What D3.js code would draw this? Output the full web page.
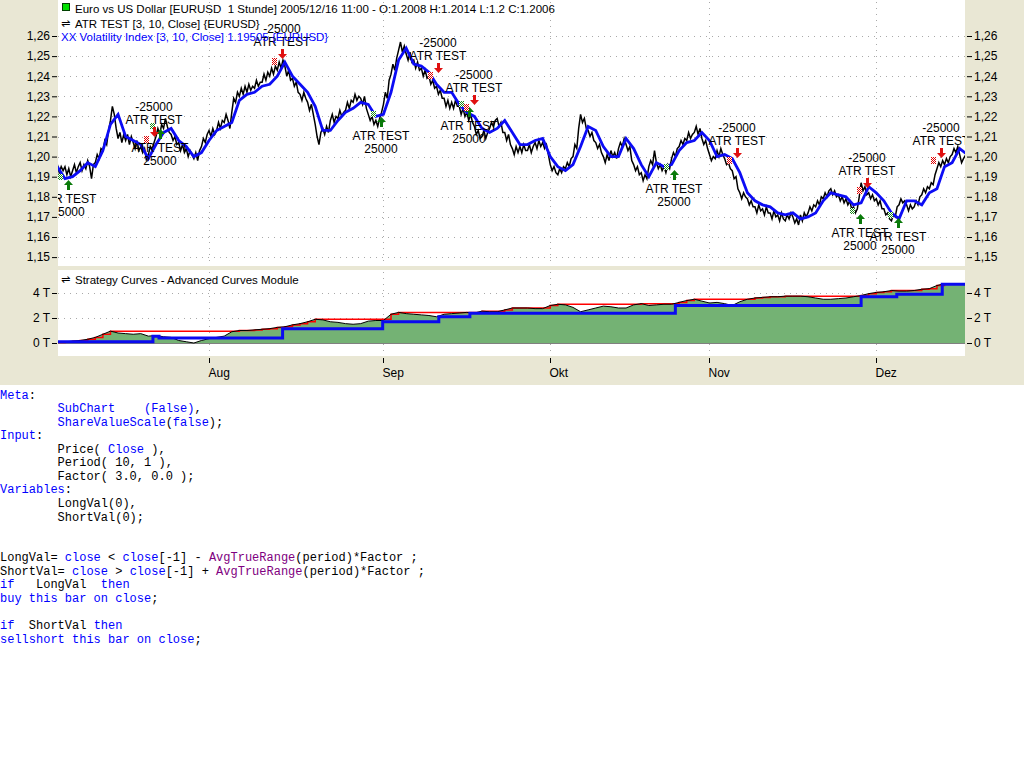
<!DOCTYPE html>
<html><head><meta charset="utf-8">
<script src="https://cdn.jsdelivr.net/npm/d3@7/dist/d3.min.js"></script>
<style>
html,body{margin:0;padding:0;background:#fff;}
svg{display:block;font-family:"Liberation Sans",Arial,sans-serif;}
text{white-space:pre;}
</style></head><body>
<svg id="c" width="1024" height="768"></svg>
<script>
// ---------- DATA ----------
// EURUSD close, sampled four times per trading day (index = weekday counted from Jul 4 2005)
const closes = [
1.196,1.192,1.195,1.193, 1.195,1.191,1.194,1.190, 1.193,1.196,1.192,1.195, 1.197,1.193,1.196,1.194,
1.198,1.195,1.189,1.196, 1.197,1.201,1.199,1.204, 1.203,1.208,1.206,1.213, 1.218,1.225,1.221,1.214,
1.209,1.212,1.207,1.211, 1.208,1.211,1.206,1.210, 1.207,1.204,1.208,1.203, 1.205,1.202,1.204,1.198,
1.201,1.205,1.203,1.207, 1.210,1.214,1.211,1.216, 1.214,1.219,1.215,1.212, 1.211,1.208,1.210,1.206,
1.207,1.203,1.206,1.202, 1.204,1.200,1.203,1.201, 1.199,1.202,1.198,1.203, 1.205,1.209,1.207,1.211,
1.213,1.210,1.214,1.211, 1.213,1.217,1.214,1.218, 1.217,1.221,1.218,1.214, 1.222,1.229,1.227,1.232,
1.230,1.234,1.231,1.235, 1.232,1.236,1.233,1.235, 1.234,1.238,1.235,1.237, 1.237,1.241,1.238,1.242,
1.240,1.244,1.241,1.245, 1.243,1.247,1.244,1.248, 1.245,1.240,1.243,1.238, 1.239,1.235,1.237,1.232,
1.231,1.228,1.232,1.229, 1.227,1.223,1.226,1.221, 1.216,1.210,1.206,1.212, 1.214,1.211,1.215,1.212,
1.218,1.221,1.217,1.220, 1.219,1.223,1.220,1.222, 1.223,1.227,1.224,1.228, 1.227,1.231,1.228,1.230,
1.229,1.226,1.230,1.224, 1.221,1.218,1.220,1.216, 1.218,1.215,1.219,1.222, 1.226,1.232,1.229,1.238,
1.241,1.246,1.243,1.249, 1.253,1.257,1.252,1.255, 1.251,1.248,1.252,1.247, 1.248,1.244,1.247,1.243,
1.244,1.240,1.243,1.239, 1.240,1.236,1.238,1.234, 1.235,1.231,1.233,1.229, 1.229,1.225,1.228,1.224,
1.227,1.224,1.228,1.225, 1.225,1.221,1.224,1.220, 1.222,1.218,1.221,1.217, 1.215,1.211,1.213,1.209,
1.210,1.213,1.209,1.212, 1.214,1.217,1.215,1.218, 1.219,1.215,1.217,1.212, 1.212,1.208,1.211,1.206,
1.204,1.201,1.205,1.202, 1.205,1.202,1.206,1.203, 1.203,1.206,1.202,1.205, 1.207,1.204,1.208,1.205,
1.207,1.204,1.206,1.201, 1.196,1.193,1.195,1.192, 1.191,1.194,1.192,1.195, 1.194,1.197,1.195,1.199,
1.200,1.206,1.204,1.214, 1.221,1.217,1.219,1.214, 1.213,1.210,1.212,1.208, 1.207,1.204,1.206,1.202,
1.200,1.197,1.201,1.198, 1.203,1.200,1.202,1.199, 1.204,1.207,1.205,1.209, 1.206,1.203,1.205,1.198,
1.196,1.193,1.195,1.191, 1.192,1.188,1.191,1.189, 1.195,1.198,1.196,1.203, 1.197,1.194,1.196,1.193,
1.195,1.192,1.196,1.194, 1.199,1.202,1.200,1.204, 1.205,1.208,1.206,1.209, 1.208,1.212,1.209,1.211,
1.212,1.215,1.211,1.214, 1.209,1.206,1.208,1.204, 1.201,1.198,1.200,1.199, 1.203,1.200,1.204,1.201,
1.199,1.196,1.197,1.194, 1.193,1.189,1.190,1.184, 1.182,1.179,1.182,1.180, 1.179,1.176,1.178,1.175,
1.175,1.172,1.176,1.173, 1.174,1.171,1.175,1.172, 1.172,1.169,1.173,1.170, 1.171,1.168,1.172,1.169,
1.168,1.171,1.169,1.172, 1.170,1.167,1.169,1.166, 1.171,1.168,1.172,1.170, 1.172,1.175,1.173,1.176,
1.175,1.178,1.176,1.180, 1.179,1.182,1.180,1.183, 1.184,1.181,1.183,1.180, 1.181,1.178,1.180,1.177,
1.179,1.176,1.178,1.174, 1.175,1.172,1.174,1.180, 1.187,1.183,1.185,1.181, 1.182,1.179,1.181,1.178,
1.179,1.176,1.178,1.174, 1.174,1.171,1.172,1.169, 1.168,1.171,1.170,1.175, 1.176,1.179,1.177,1.178,
1.176,1.173,1.176,1.174, 1.175,1.178,1.176,1.180, 1.181,1.184,1.182,1.185, 1.184,1.187,1.186,1.191,
1.194,1.197,1.195,1.198, 1.196,1.199,1.197,1.200, 1.201,1.204,1.202,1.205, 1.201,1.197,1.199,1.2006
];
// XX Volatility Index, one value per trading day
const volIndex = [
1.195,1.189,1.190,1.193,1.197,1.195,1.203,1.216,1.221,1.210,
1.208,1.206,1.199,1.206,1.212,1.214,1.208,1.205,1.200,1.202,
1.208,1.213,1.215,1.217,1.228,1.231,1.232,1.235,1.236,1.240,
1.247,1.240,1.236,1.232,1.225,1.213,1.213,1.218,1.222,1.224,
1.227,1.226,1.220,1.221,1.232,1.248,1.254,1.246,1.245,1.242,
1.236,1.232,1.232,1.226,1.222,1.220,1.214,1.212,1.214,1.218,
1.212,1.206,1.206,1.208,1.209,1.200,1.195,1.193,1.196,1.205,
1.215,1.213,1.205,1.200,1.200,1.209,1.204,1.196,1.190,1.197,
1.195,1.196,1.203,1.207,1.208,1.212,1.208,1.200,1.201,1.199,
1.192,1.182,1.178,1.176,1.175,1.172,1.171,1.172,1.169,1.170,
1.172,1.178,1.182,1.181,1.180,1.176,1.177,1.185,1.182,1.178,
1.172,1.169,1.178,1.178,1.176,1.182,1.184,1.195,1.197,1.204,1.201
];
// Strategy equity (thousands), one value per trading day
const equity = [
0.05,0.1,0.15,0.2,0.3,0.45,0.7,0.95,0.8,0.75,
0.7,0.75,0.55,0.6,0.5,0.45,0.2,0.1,0.0,0.2,
0.35,0.45,0.55,0.9,1.0,1.0,1.05,1.1,1.15,1.25,
1.3,1.45,1.55,1.7,1.9,1.85,1.7,1.65,1.55,1.5,
1.55,1.75,1.8,1.8,2.3,2.45,2.35,2.3,2.25,2.2,
2.1,2.3,2.35,2.4,2.45,2.4,2.55,2.5,2.5,2.65,
2.8,2.8,2.8,2.75,2.75,3.0,3.1,3.05,2.85,2.5,
2.65,2.8,2.95,2.9,2.8,2.8,3.05,3.15,3.0,3.05,
3.1,3.1,3.25,3.4,3.5,3.35,3.2,3.25,3.15,3.0,
3.3,3.5,3.6,3.65,3.7,3.7,3.75,3.75,3.75,3.7,
3.6,3.5,3.5,3.55,3.6,3.7,3.8,3.95,4.05,4.1,
4.2,4.15,4.15,4.2,4.3,4.35,4.6,4.75,4.7,4.7,4.65
];
// closed-trade equity steps
const closedT   = [0, 12.6, 13.4, 29.7, 42.9, 50.3, 54.4, 81.5, 106.0, 110.7, 116.7, 120];
const closedVal = [0.1, 0.55, 0.4, 1.15, 1.7, 2.1, 2.38, 3.0, 3.7, 3.9, 4.7, 4.7];
// signals
const buyT   = [1.4, 13.5, 42.7, 54.3, 81.3, 105.9, 110.8];
const buyPx  = [1.186, 1.211, 1.217, 1.222, 1.191, 1.169, 1.167];
const sellT  = [12.7, 29.6, 50.2, 55.0, 89.6, 106.8, 116.6];
const sellPx = [1.212, 1.251, 1.244, 1.228, 1.202, 1.187, 1.202];
const buyLabel = ["ATR TEST", "25000"];
const sellLabel = ["-25000", "ATR TEST"];
// axes
const priceTicks = [1.15,1.16,1.17,1.18,1.19,1.20,1.21,1.22,1.23,1.24,1.25,1.26];
const equityTicks = [0, 2, 4];
const monthLabels = ["Aug","Sep","Okt","Nov","Dez"];
const monthT = [20, 43, 65, 86, 108];
const headerLines = [
  "Euro vs US Dollar [EURUSD  1 Stunde] 2005/12/16 11:00 - O:1.2008 H:1.2014 L:1.2 C:1.2006",
  "ATR TEST [3, 10, Close] {EURUSD}",
  "XX Volatility Index [3, 10, Close] 1.19505 {EURUSD}"
];
const subTitle = "Strategy Curves - Advanced Curves Module";
const codeLines = [
 [["Meta","k"],[":",""]],
 [["        ",""],["SubChart","k"],["    ",""],["(False)","k"],[",",""]],
 [["        ",""],["ShareValueScale","k"],["(",""],["false","k"],[");",""]],
 [["Input","k"],[":",""]],
 [["        Price( ",""],["Close","k"],[" ),",""]],
 [["        Period( 10, 1 ),",""]],
 [["        Factor( 3.0, 0.0 );",""]],
 [["Variables","k"],[":",""]],
 [["        LongVal(0),",""]],
 [["        ShortVal(0);",""]],
 [],
 [],
 [["LongVal= ",""],["close","k"],[" < ",""],["close","k"],["[-1] - ",""],["AvgTrueRange","p"],["(period)*Factor ;",""]],
 [["ShortVal= ",""],["close","k"],[" > ",""],["close","k"],["[-1] + ",""],["AvgTrueRange","p"],["(period)*Factor ;",""]],
 [["if","k"],["   LongVal  ",""],["then","k"]],
 [["buy this bar on close","k"],[";",""]],
 [],
 [["if","k"],["  ShortVal ",""],["then","k"]],
 [["sellshort this bar on close","k"],[";",""]]
];

// ---------- DRAW ----------
const svg = d3.select("#c");
const BG = "#e9e7d4";
const GRID = "#a9a9a9";
svg.append("rect").attr("width",1024).attr("height",768).attr("fill","#fff");
svg.append("rect").attr("width",1024).attr("height",385).attr("fill",BG);

const L = 58, R = 965;
const main = {t:0, b:266}, low = {t:270, b:356};
svg.append("rect").attr("x",L).attr("y",main.t).attr("width",R-L).attr("height",main.b-main.t).attr("fill","#fff");
svg.append("rect").attr("x",L).attr("y",low.t).attr("width",R-L).attr("height",low.b-low.t).attr("fill","#fff");

const defs = svg.append("defs");
defs.append("clipPath").attr("id","cm").append("rect").attr("x",L).attr("y",main.t).attr("width",R-L).attr("height",main.b-main.t);
defs.append("clipPath").attr("id","cl").append("rect").attr("x",L).attr("y",low.t).attr("width",R-L).attr("height",low.b-low.t);
function chk(id,col){
  const p = defs.append("pattern").attr("id",id).attr("width",2).attr("height",2).attr("patternUnits","userSpaceOnUse");
  p.append("rect").attr("width",2).attr("height",2).attr("fill","#fff");
  p.append("rect").attr("width",1).attr("height",1).attr("fill",col);
  p.append("rect").attr("x",1).attr("y",1).attr("width",1).attr("height",1).attr("fill",col);
}
chk("rchk","#e00000"); chk("gchk","#1a8a1a");

const x = d3.scaleLinear().domain([0,119.7]).range([57.4,965]);
const y = d3.scaleLinear().domain([1.15,1.26]).range([257.1,36]);
const ye = d3.scaleLinear().domain([0,4]).range([343,293]);

// grids
const gm = svg.append("g");
gm.selectAll("line.h").data(priceTicks).join("line")
  .attr("x1",L).attr("x2",R).attr("y1",d=>Math.round(y(d))+0.5).attr("y2",d=>Math.round(y(d))+0.5)
  .attr("stroke",GRID).attr("stroke-dasharray","1,5");
gm.selectAll("line.h2").data(equityTicks).join("line")
  .attr("x1",L).attr("x2",R).attr("y1",d=>Math.round(ye(d))+0.5).attr("y2",d=>Math.round(ye(d))+0.5)
  .attr("stroke",GRID).attr("stroke-dasharray","1,5");
gm.selectAll("line.v").data(monthT).join("line")
  .attr("x1",d=>Math.round(x(d))+0.5).attr("x2",d=>Math.round(x(d))+0.5).attr("y1",main.t+2).attr("y2",main.b)
  .attr("stroke",GRID).attr("stroke-dasharray","1,5");
gm.selectAll("line.v2").data(monthT).join("line")
  .attr("x1",d=>Math.round(x(d))+0.5).attr("x2",d=>Math.round(x(d))+0.5).attr("y1",low.t+2).attr("y2",low.b)
  .attr("stroke",GRID).attr("stroke-dasharray","1,5");

// axes
const fmtP = d => d3.format(".2f")(d).replace(".",",");
function styleAxis(g){ g.select(".domain").remove(); g.selectAll("text").attr("font-size","12px").attr("fill","#000").attr("font-family","Liberation Sans, Arial, sans-serif"); g.selectAll("line").attr("stroke","#000"); }
svg.append("g").attr("transform","translate(57,0)").call(d3.axisLeft(y).tickValues(priceTicks).tickSize(5).tickPadding(2).tickFormat(fmtP)).call(styleAxis);
svg.append("g").attr("transform","translate(967,0)").call(d3.axisRight(y).tickValues(priceTicks).tickSize(5).tickPadding(2).tickFormat(fmtP)).call(styleAxis);
svg.append("g").attr("transform","translate(57,0)").call(d3.axisLeft(ye).tickValues(equityTicks).tickSize(5).tickPadding(2).tickFormat(d=>d+" T")).call(styleAxis);
svg.append("g").attr("transform","translate(967,0)").call(d3.axisRight(ye).tickValues(equityTicks).tickSize(5).tickPadding(2).tickFormat(d=>d+" T")).call(styleAxis);
const bx = svg.append("g").attr("transform","translate(0,358)")
  .call(d3.axisBottom(x).tickValues(monthT).tickSize(5).tickFormat((d,i)=>monthLabels[i])).call(styleAxis);
bx.selectAll(".tick").attr("transform",d=>`translate(${Math.round(x(d))+0.5},0)`);
bx.selectAll("text").attr("text-anchor","start").attr("x",-1).attr("y",10).attr("dy","0.71em");

// lower panel: equity
const gl = svg.append("g").attr("clip-path","url(#cl)");
const eqPts = equity.map((v,i)=>[i,v]);
gl.append("path").datum(eqPts)
  .attr("d", d3.area().x(d=>x(d[0])).y0(ye(0)).y1(d=>ye(d[1])))
  .attr("fill","#74b274");
gl.append("line").attr("x1",L).attr("x2",R).attr("y1",ye(0)+0.5).attr("y2",ye(0)+0.5).attr("stroke","#808080");
// peak (running maximum of equity)
let mx = -Infinity;
const peakPts = equity.map((v,i)=>{ mx = Math.max(mx,v); return [i,mx]; });
gl.append("path").datum(peakPts)
  .attr("d", d3.line().x(d=>x(d[0])).y(d=>ye(d[1])).curve(d3.curveStepAfter))
  .attr("fill","none").attr("stroke","#ff0000").attr("stroke-width",1.5);
gl.append("path").datum(eqPts)
  .attr("d", d3.line().x(d=>x(d[0])).y(d=>ye(d[1])))
  .attr("fill","none").attr("stroke","#000").attr("stroke-width",1);
gl.append("path").datum(closedT.map((t,i)=>[t,closedVal[i]]))
  .attr("d", d3.line().x(d=>x(d[0])).y(d=>ye(d[1])).curve(d3.curveStepAfter))
  .attr("fill","none").attr("stroke","#0a0af0").attr("stroke-width",3);

// main panel
const gp = svg.append("g").attr("clip-path","url(#cm)");
gp.append("path").datum(closes)
  .attr("d", d3.line().x((d,i)=>x(i*0.25)).y(d=>y(d)))
  .attr("fill","none").attr("stroke","#000").attr("stroke-width",1.5).attr("stroke-linejoin","miter");
gp.append("path").datum(volIndex)
  .attr("d", d3.line().x((d,i)=>x(i)).y(d=>y(d)))
  .attr("fill","none").attr("stroke","#0c0cf5").attr("stroke-width",2.8);

function arrow(g, cx, cy, up, col){
  const s = up ? -1 : 1;
  g.append("path").attr("d",
    `M${cx-1.5},${cy-s*5} L${cx+1.5},${cy-s*5} L${cx+1.5},${cy} L${cx+4.5},${cy} L${cx},${cy+s*5} L${cx-4.5},${cy} L${cx-1.5},${cy} Z`)
    .attr("fill",col);
}
const ga = gp.append("g").attr("font-size","12px").attr("fill","#000");
buyT.forEach((t,i)=>{
  const cx = Math.round(x(t)), cy = Math.round(y(buyPx[i]));
  gp.append("rect").attr("x",cx-10).attr("y",cy-11).attr("width",5).attr("height",6).attr("fill","url(#gchk)");
  arrow(gp, cx+0.5, cy, true, "#0a7a0a");
  ga.append("text").attr("x",cx).attr("y",cy+18).attr("text-anchor","middle").text(buyLabel[0]);
  ga.append("text").attr("x",cx).attr("y",cy+31).attr("text-anchor","middle").text(buyLabel[1]);
});
sellT.forEach((t,i)=>{
  const cx = Math.round(x(t)), cy = Math.round(y(sellPx[i]));
  gp.append("rect").attr("x",cx-10).attr("y",cy+4).attr("width",5).attr("height",7).attr("fill","url(#rchk)");
  arrow(gp, cx+0.5, cy, false, "#e01010");
  ga.append("text").attr("x",cx).attr("y",cy-21).attr("text-anchor","middle").text(sellLabel[0]);
  ga.append("text").attr("x",cx).attr("y",cy-8).attr("text-anchor","middle").text(sellLabel[1]);
});

// header
const gh = svg.append("g").attr("font-size","11.5px");
gh.append("rect").attr("x",62.5).attr("y",3.5).attr("width",7).attr("height",7).attr("fill","#00e000").attr("stroke","#004000");
gh.append("text").attr("x",75).attr("y",12.5).attr("fill","#000").text(headerLines[0]);
gh.append("text").attr("x",61).attr("y",27).attr("fill","#000").attr("font-family","DejaVu Sans").attr("font-size","11px").text("⇌");
gh.append("text").attr("x",75).attr("y",27.5).attr("fill","#000").text(headerLines[1]);
gh.append("text").attr("x",61).attr("y",40.5).attr("fill","#0000ff").text(headerLines[2]);
gh.append("text").attr("x",61).attr("y",283).attr("fill","#000").attr("font-family","DejaVu Sans").attr("font-size","11px").text("⇌");
gh.append("text").attr("x",75).attr("y",283.5).attr("fill","#000").text(subTitle);

// code listing
const colors = {"":"#000","k":"#0000ff","p":"#800080"};
const gc = svg.append("g").attr("font-family","Liberation Mono, Courier New, monospace").attr("font-size","12px");
codeLines.forEach((toks,i)=>{
  const t = gc.append("text").attr("x",0).attr("y",398.6 + i*13.55);
  toks.forEach(tk=> t.append("tspan").attr("fill",colors[tk[1]]).text(tk[0]));
});
</script>
</body></html>
